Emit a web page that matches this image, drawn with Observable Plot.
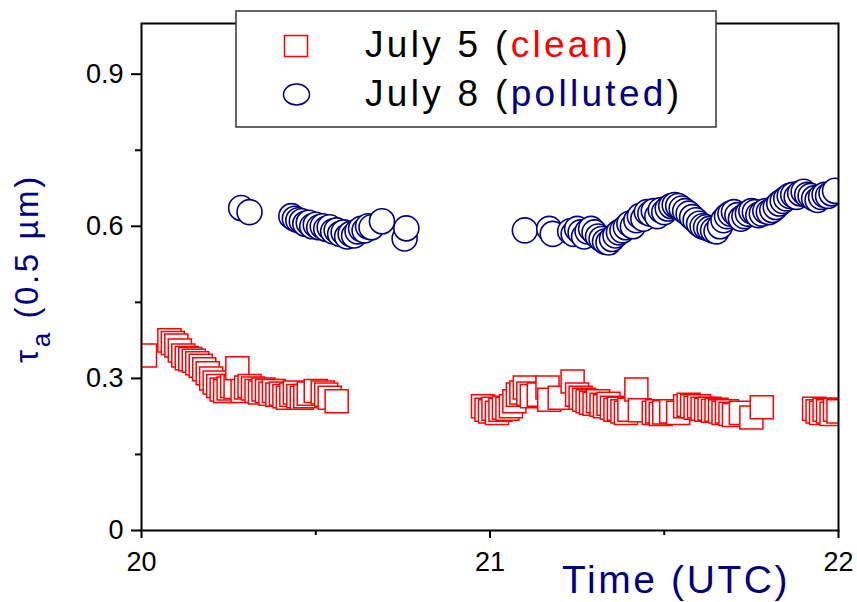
<!DOCTYPE html>
<html>
<head>
<meta charset="utf-8">
<script src="https://cdn.jsdelivr.net/npm/d3@7"></script>
<script src="https://cdn.jsdelivr.net/npm/@observablehq/plot@0.6"></script>
<style>
  html, body { margin: 0; padding: 0; background: white; }
  #chart { position: relative; width: 857px; height: 602px; }
</style>
</head>
<body>
<div id="chart"></div>
<script>
// July 5 (clean) — time (UTC hours) and aerosol optical depth at 0.5 µm
const timeJuly5 = [
  20.01, 20.08, 20.09, 20.10, 20.11, 20.12, 20.13, 20.14, 20.15, 20.16, 20.17, 20.18, 20.19, 20.20,
  20.21, 20.22, 20.23, 20.24, 20.25, 20.26, 20.27, 20.275, 20.29, 20.30, 20.31, 20.32, 20.33, 20.34,
  20.35, 20.36, 20.37, 20.38, 20.39, 20.40, 20.41, 20.42, 20.43, 20.44, 20.45, 20.46, 20.47, 20.48,
  20.50, 20.52, 20.53, 20.54, 20.56,
  20.98, 20.99, 21.00, 21.01, 21.02, 21.03, 21.04, 21.05, 21.06, 21.07, 21.08, 21.09, 21.10, 21.11,
  21.12, 21.14, 21.165, 21.17, 21.20, 21.237, 21.25, 21.26, 21.27, 21.28, 21.29, 21.30, 21.31, 21.32,
  21.33, 21.34, 21.35, 21.36, 21.37, 21.38, 21.39, 21.40, 21.42, 21.43, 21.47, 21.48, 21.49, 21.50,
  21.52, 21.54, 21.56, 21.57, 21.58, 21.59, 21.60, 21.61, 21.62, 21.63, 21.64, 21.65, 21.66, 21.67,
  21.68, 21.69, 21.70, 21.72, 21.75, 21.78, 21.93, 21.94, 21.95, 21.96, 21.97, 21.98, 21.99, 22.00
];
const tauJuly5 = [
  0.345, 0.375, 0.370, 0.365, 0.355, 0.345, 0.340, 0.338, 0.335, 0.330, 0.325, 0.318, 0.310, 0.300,
  0.292, 0.285, 0.278, 0.275, 0.280, 0.285, 0.283, 0.320, 0.275, 0.282, 0.285, 0.280, 0.275, 0.272,
  0.278, 0.275, 0.270, 0.275, 0.268, 0.270, 0.265, 0.262, 0.268, 0.272, 0.265, 0.262, 0.265, 0.270,
  0.275, 0.272, 0.268, 0.262, 0.255,
  0.245, 0.238, 0.235, 0.240, 0.232, 0.238, 0.242, 0.240, 0.245, 0.255, 0.268, 0.272, 0.282, 0.270,
  0.265, 0.268, 0.282, 0.258, 0.262, 0.294, 0.268, 0.262, 0.258, 0.255, 0.252, 0.250, 0.255, 0.248,
  0.245, 0.250, 0.242, 0.238, 0.240, 0.235, 0.232, 0.238, 0.278, 0.237, 0.232, 0.235, 0.230, 0.233,
  0.235, 0.232, 0.245, 0.248, 0.245, 0.242, 0.245, 0.240, 0.238, 0.240, 0.236, 0.238, 0.235, 0.232,
  0.235, 0.230, 0.228, 0.232, 0.223, 0.243, 0.240, 0.235, 0.232, 0.238, 0.235, 0.230, 0.238, 0.235
];

// July 8 (polluted)
const timeJuly8 = [
  20.286, 20.31, 20.43, 20.44, 20.45, 20.46, 20.47, 20.48, 20.49, 20.50, 20.51, 20.52, 20.53, 20.54,
  20.55, 20.56, 20.57, 20.58, 20.59, 20.60, 20.61, 20.62, 20.63, 20.64, 20.65, 20.66, 20.69, 20.755, 20.76,
  21.10, 21.17, 21.18, 21.23, 21.24, 21.25, 21.26, 21.27, 21.28, 21.29, 21.30, 21.31, 21.32, 21.33,
  21.34, 21.35, 21.36, 21.37, 21.38, 21.39, 21.40, 21.41, 21.42, 21.43, 21.44, 21.45, 21.46, 21.47,
  21.48, 21.49, 21.50, 21.51, 21.52, 21.53, 21.54, 21.55, 21.56, 21.57, 21.58, 21.59, 21.60, 21.61,
  21.62, 21.63, 21.64, 21.65, 21.66, 21.67, 21.68, 21.69, 21.70, 21.71, 21.72, 21.73, 21.74, 21.75,
  21.76, 21.77, 21.78, 21.79, 21.80, 21.81, 21.82, 21.83, 21.84, 21.85, 21.86, 21.87, 21.88, 21.89,
  21.90, 21.91, 21.92, 21.93, 21.94, 21.95, 21.96, 21.97, 21.98, 21.99
];
const tauJuly8 = [
  0.636, 0.628, 0.620, 0.615, 0.612, 0.610, 0.605, 0.607, 0.600, 0.603, 0.598, 0.600, 0.595, 0.598,
  0.590, 0.592, 0.585, 0.588, 0.580, 0.585, 0.582, 0.590, 0.595, 0.592, 0.600, 0.598, 0.610, 0.576, 0.596,
  0.592, 0.595, 0.585, 0.590, 0.585, 0.595, 0.588, 0.580, 0.590, 0.595, 0.588, 0.580, 0.575, 0.570,
  0.568, 0.575, 0.582, 0.588, 0.592, 0.598, 0.605, 0.600, 0.612, 0.620, 0.615, 0.628, 0.625, 0.630,
  0.620, 0.632, 0.628, 0.635, 0.640, 0.642, 0.640, 0.635, 0.630, 0.625, 0.618, 0.612, 0.605, 0.600,
  0.598, 0.595, 0.592, 0.590, 0.600, 0.612, 0.620, 0.625, 0.628, 0.622, 0.615, 0.620, 0.625, 0.630,
  0.628, 0.622, 0.625, 0.630, 0.628, 0.632, 0.638, 0.645, 0.650, 0.655, 0.660, 0.662, 0.658, 0.665,
  0.668, 0.662, 0.660, 0.655, 0.652, 0.658, 0.662, 0.660, 0.665, 0.670
];

const xMajorTicks = [20, 21, 22];
const xMinorTicks = [20.5, 21.5];
const yMajorTicks = [0, 0.3, 0.6, 0.9];
const yMinorTicks = [0.15, 0.45, 0.75];
const yTickLabels = ["0", "0.3", "0.6", "0.9"];
const seriesNames = ["July 5 (", "clean", ")", "July 8 (", "polluted", ")"];

const july5 = timeJuly5.map((t, i) => ({t, v: tauJuly5[i]}));
const july8 = timeJuly8.map((t, i) => ({t, v: tauJuly8[i]}));

const RED = "#ff0000";
const NAVY = "#000080";
const FONT = "'Liberation Sans', Arial, Helvetica, sans-serif";

const chart = Plot.plot({
  width: 857,
  height: 602,
  marginLeft: 141,
  marginRight: 19,
  marginTop: 23,
  marginBottom: 72,
  x: {domain: [20, 22], label: null},
  y: {domain: [0, 1], label: null},
  style: {fontFamily: FONT, fontSize: "27px", background: "white", color: "black", overflow: "visible"},
  marks: [
    Plot.dot(july5, {x: "t", y: "v", symbol: "square", r: 13, stroke: RED, fill: "white", strokeWidth: 1.5, clip: true}),
    Plot.dot(july8, {x: "t", y: "v", symbol: "circle", r: 12.5, stroke: NAVY, fill: "white", strokeWidth: 1.6, clip: true}),
    Plot.frame({stroke: "black", strokeWidth: 2}),
    Plot.axisX({ticks: xMajorTicks, tickSize: 8, tickPadding: 13, tickFormat: d => String(d), label: null, strokeWidth: 2, fontSize: 27}),
    Plot.axisX({ticks: xMinorTicks, tickSize: 5, tickFormat: () => "", label: null, strokeWidth: 2}),
    Plot.axisY({ticks: yMajorTicks, tickSize: 10, tickPadding: 8, tickFormat: d => yTickLabels[yMajorTicks.indexOf(d)], label: null, strokeWidth: 2, fontSize: 27}),
    Plot.axisY({ticks: yMinorTicks, tickSize: 6, tickFormat: () => "", label: null, strokeWidth: 2})
  ]
});

document.getElementById("chart").appendChild(chart);

const svg = d3.select(chart);

// X axis title
svg.append("text")
  .attr("x", 562).attr("y", 593)
  .attr("text-anchor", "start")
  .attr("fill", NAVY)
  .style("font-family", FONT).style("font-size", "39px").style("letter-spacing", "2.6px")
  .text("Time (UTC)");

// Y axis title (rotated)
const yl = svg.append("text")
  .attr("transform", "translate(38,363) rotate(-90)")
  .attr("text-anchor", "start")
  .attr("fill", NAVY)
  .style("font-family", FONT).style("font-size", "33px").style("letter-spacing", "2.6px");
yl.append("tspan").text("τ");
yl.append("tspan").attr("dy", 12).style("font-size", "26px").text("a");
yl.append("tspan").attr("dy", -12).text(" (0.5 µm)");

// Legend
const lg = svg.append("g");
lg.append("rect").attr("x", 236).attr("y", 11).attr("width", 480).attr("height", 116)
  .attr("fill", "white").attr("stroke", "#333").attr("stroke-width", 1.5);
lg.append("rect").attr("x", 284.5).attr("y", 35.5).attr("width", 23).attr("height", 21)
  .attr("fill", "white").attr("stroke", RED).attr("stroke-width", 1.5);
lg.append("ellipse").attr("cx", 296.5).attr("cy", 94.5).attr("rx", 13).attr("ry", 10.5)
  .attr("fill", "white").attr("stroke", NAVY).attr("stroke-width", 1.5);
const legendLines = [
  {y: 57, parts: [[seriesNames[0], "black"], [seriesNames[1], RED], [seriesNames[2], "black"]]},
  {y: 106, parts: [[seriesNames[3], "black"], [seriesNames[4], NAVY], [seriesNames[5], "black"]]}
];
for (const line of legendLines) {
  const t = lg.append("text").attr("x", 365).attr("y", line.y)
    .attr("text-anchor", "start")
    .style("font-family", FONT).style("font-size", "37px").style("letter-spacing", "3.3px");
  for (const [s, c] of line.parts) t.append("tspan").attr("fill", c).text(s);
}
</script>
</body>
</html>
